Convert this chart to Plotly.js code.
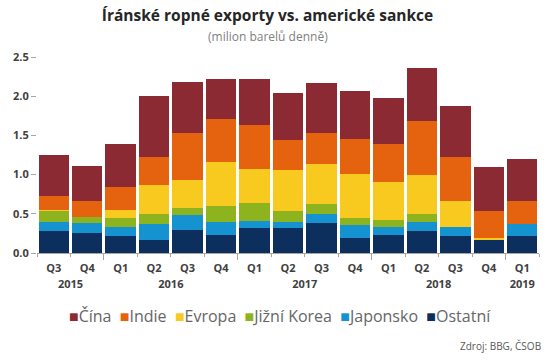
<!DOCTYPE html>
<html>
<head>
<meta charset="utf-8">
<script src="https://cdn.plot.ly/plotly-3.0.1.min.js"></script>
<style>html,body{margin:0;padding:0;background:#fff;}#chart{width:546px;height:361px;}</style>
</head>
<body>
<div id="chart"></div>
<script>
var years = ['2015','2015','2016','2016','2016','2016','2017','2017','2017','2017','2018','2018','2018','2018','2019'];
var quarters = ['Q3','Q4','Q1','Q2','Q3','Q4','Q1','Q2','Q3','Q4','Q1','Q2','Q3','Q4','Q1'];

// Series (million barrels per day), bottom to top of stack
var ostatni  = [0.285,0.255,0.217,0.166,0.290,0.230,0.323,0.323,0.382,0.191,0.234,0.276,0.217,0.161,0.212];
var japonsko = [0.110,0.123,0.113,0.204,0.194,0.165,0.087,0.077,0.115,0.170,0.096,0.119,0.110,0.000,0.162];
var korea    = [0.145,0.082,0.116,0.127,0.096,0.205,0.223,0.135,0.131,0.089,0.095,0.098,0.004,0.000,0.000];
var evropa   = [0.010,0.004,0.097,0.373,0.350,0.555,0.437,0.518,0.510,0.560,0.479,0.496,0.327,0.030,0.000];
var indie    = [0.176,0.200,0.294,0.357,0.607,0.552,0.565,0.391,0.391,0.446,0.485,0.701,0.565,0.344,0.284];
var cina     = [0.524,0.440,0.553,0.773,0.643,0.510,0.590,0.594,0.645,0.612,0.594,0.675,0.658,0.561,0.542];

var seriesNames  = ['Ostatní','Japonsko','Jižní Korea','Evropa','Indie','Čína'];
var seriesValues = [ostatni, japonsko, korea, evropa, indie, cina];
var seriesColors = ['#0C2F5D','#1493D0','#8DB31F','#F8C91F','#E5620F','#8C2A34'];

// unique category keys, quarter shown as tick text
var cats = years.map(function(y, i){ return quarters[i] + ' ' + y; });

// year groups: centers for labels, boundaries for long ticks (category index space)
var yearLabels = [], yearCenters = [], yearBounds = [];
var start = 0;
for (var k = 1; k <= years.length; k++) {
  if (k === years.length || years[k] !== years[start]) {
    yearLabels.push(years[start]);
    yearCenters.push((start + k - 1) / 2);
    if (k < years.length) yearBounds.push(k - 0.5);
    start = k;
  }
}

var traces = seriesNames.map(function(n, i){
  return {
    type: 'bar',
    name: n,
    x: cats,
    y: seriesValues[i],
    marker: {color: seriesColors[i], line: {width: 0}},
    hoverinfo: 'skip'
  };
});
// invisible helper traces so the year-label axis and year-boundary tick axis are drawn
traces.push({type: 'scatter', mode: 'none', x: yearCenters, y: yearCenters.map(function(){return 0;}), xaxis: 'x2', yaxis: 'y', hoverinfo: 'skip', showlegend: false});
traces.push({type: 'scatter', mode: 'none', x: yearBounds, y: yearBounds.map(function(){return 0;}), xaxis: 'x3', yaxis: 'y', hoverinfo: 'skip', showlegend: false});

// custom legend text built from the series arrays (Čína first)
var legendParts = [];
for (var i = seriesNames.length - 1; i >= 0; i--) {
  legendParts.push('<span style="color:' + seriesColors[i] + '">■</span>' + seriesNames[i]);
}
var legendText = legendParts.join('  ');

var xr = [-0.5, cats.length - 0.5];
var tickFont = {size: 11, color: '#404040', weight: 'bold'};

var layout = {
  width: 546,
  height: 361,
  margin: {l: 37, r: 7, t: 57, b: 108, pad: 0},
  paper_bgcolor: '#ffffff',
  plot_bgcolor: '#ffffff',
  barmode: 'stack',
  bargap: 0.09,
  showlegend: false,
  font: {family: '"Open Sans", "Noto Sans", sans-serif', color: '#404040'},
  title: {
    text: 'Íránské ropné exporty vs. americké sankce',
    font: {size: 15.5, color: '#262626', weight: 'bold', family: '"Open Sans", sans-serif'},
    x: 0.49, xref: 'container', xanchor: 'center',
    y: 0.957, yref: 'container', yanchor: 'middle'
  },
  xaxis: {
    type: 'category',
    range: xr,
    tickmode: 'array',
    tickvals: cats,
    ticktext: quarters,
    showline: true,
    linecolor: '#a6a6a6',
    linewidth: 1,
    ticks: 'outside',
    tickson: 'boundaries',
    ticklen: 3,
    tickcolor: '#a6a6a6',
    ticklabelstandoff: 5,
    showgrid: false,
    zeroline: false,
    tickfont: tickFont,
    automargin: false
  },
  xaxis2: {
    type: 'linear',
    overlaying: 'x',
    anchor: 'y',
    side: 'bottom',
    range: xr,
    tickmode: 'array',
    tickvals: yearCenters,
    ticktext: yearLabels,
    ticks: '',
    showline: false,
    showgrid: false,
    zeroline: false,
    ticklabelstandoff: 23,
    tickfont: tickFont,
    automargin: false
  },
  xaxis3: {
    type: 'linear',
    overlaying: 'x',
    anchor: 'y',
    side: 'bottom',
    range: xr,
    tickmode: 'array',
    tickvals: yearBounds,
    ticktext: yearBounds.map(function(){return '';}),
    showticklabels: false,
    ticks: 'outside',
    ticklen: 6,
    tickcolor: '#a6a6a6',
    showline: false,
    showgrid: false,
    zeroline: false,
    automargin: false
  },
  yaxis: {
    range: [0, 2.5],
    dtick: 0.5,
    tickformat: '.1f',
    showline: false,
    showgrid: false,
    zeroline: false,
    ticks: 'outside',
    ticklen: 5,
    tickcolor: '#a6a6a6',
    tickfont: tickFont,
    automargin: false
  },
  annotations: [
    {
      text: '(milion barelů denně)',
      xref: 'paper', yref: 'paper', x: 0.46, y: 1.106,
      xanchor: 'center', yanchor: 'middle', showarrow: false,
      font: {size: 12, color: '#7f7f7f'}
    },
    {
      text: legendText,
      xref: 'paper', yref: 'paper', x: 0.485, y: -0.323,
      xanchor: 'center', yanchor: 'middle', showarrow: false,
      font: {size: 16, color: '#666666'}
    },
    {
      text: 'Zdroj: BBG, ČSOB',
      xref: 'paper', yref: 'paper', x: 1.008, y: -0.472,
      xanchor: 'right', yanchor: 'middle', showarrow: false,
      font: {size: 10, color: '#595959'}
    }
  ]
};

Plotly.newPlot('chart', traces, layout, {displayModeBar: false, staticPlot: true});
</script>
</body>
</html>
